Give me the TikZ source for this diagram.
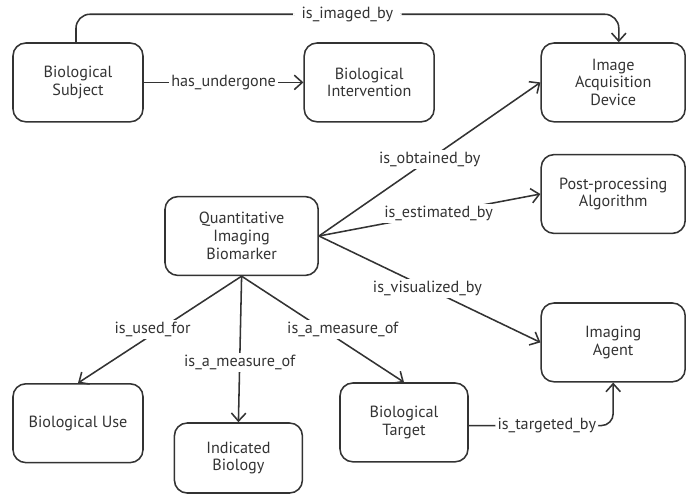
\documentclass[tikz,border=0pt]{standalone}
\usepackage{fontspec}
\setmainfont{PT Sans}
\usetikzlibrary{positioning, arrows.meta}

\begin{document}
\begin{tikzpicture}[node distance=4cm, line width=1.1pt, color=black!80,
    >={Straight Barb[length=2mm,width=3.6mm]},
    box/.style={draw, rounded corners=0.32cm, align=center, minimum width=3.25cm, minimum height=1.97cm},
    wide/.style={minimum width=3.6cm},
    lbl/.style={fill=white, inner sep=1.5pt}]
    \fontsize{11.5}{12.6}\selectfont
    \useasboundingbox (0,0) rectangle (17.2,-12.4);
    \node[box] (bs) at (1.95,-2.06) {Biological\\Subject};
    \node[box, node distance=7.28cm, right of=bs] (bi) {Biological\\Intervention};
    \node[box, wide, node distance=6.1cm, right of=bi] (iad) {Image\\Acquisition\\Device};
    \node[box, wide, node distance=2.79cm, below of=iad] (ppa) {Post-processing\\Algorithm};
    \node[box, wide, node distance=3.71cm, below of=ppa] (ia) {Imaging\\Agent};
    \node[box, minimum width=3.83cm] (qib) at (6.04,-5.9) {Quantitative\\Imaging\\Biomarker};
    \node[box] (bu) at (1.95,-10.58) {Biological Use};
    \node[box, minimum width=3.2cm, minimum height=1.75cm] (ib) at (5.96,-11.45) {Indicated\\Biology};
    \node[box, minimum width=3.2cm] (bt) at (10.1,-10.56) {Biological\\Target};
    \path[->]
    (bs) edge node[lbl]{has\_undergone} (bi)
    (qib.east) edge node[lbl]{is\_obtained\_by} (iad.west)
    (qib.east) edge node[lbl, pos=0.54]{is\_estimated\_by} (ppa.west)
    (qib.east) edge node[lbl, pos=0.49]{is\_visualized\_by} (ia.west)
    (qib.south) edge node[lbl, xshift=-0.18cm]{is\_used\_for} (bu.north)
    (qib.south) edge node[lbl, pos=0.59]{is\_a\_measure\_of} (ib.north)
    (qib.south) edge node[lbl, xshift=0.5cm]{is\_a\_measure\_of} (bt.north);
    \draw[->, rounded corners=0.35cm] ([xshift=-0.05cm]bs.north) |- node[lbl, pos=0.75, inner xsep=6pt]{is\_imaged\_by} ([xshift=0.14cm, yshift=0.7cm]iad.north) -- ([xshift=0.14cm]iad.north);
    \draw[->, rounded corners=0.3cm] ([yshift=-0.08cm]bt.east) -| node[lbl, pos=0.27]{is\_targeted\_by} (ia.south);
\end{tikzpicture}
\end{document}
